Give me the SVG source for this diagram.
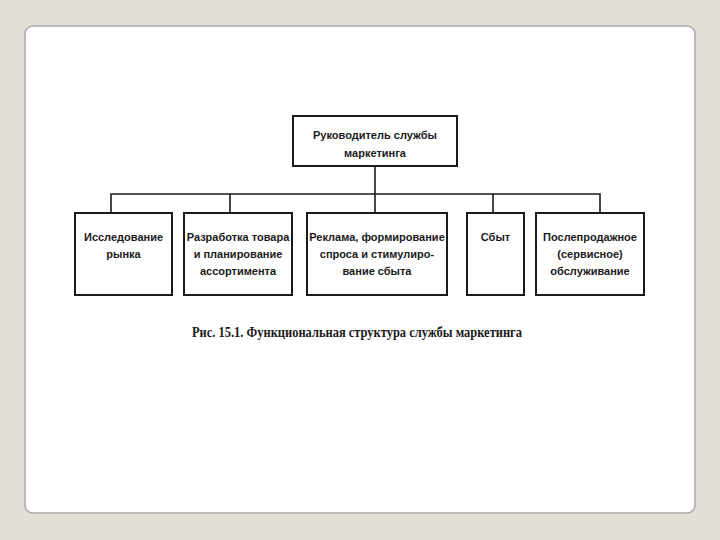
<svg xmlns="http://www.w3.org/2000/svg" width="720" height="540" viewBox="0 0 720 540">
<style>
.box{fill:#fff;stroke:#1a1a1a;stroke-width:2}
.t{font-family:"Liberation Sans",Arial,sans-serif;font-size:11px;font-weight:bold;fill:#1a1a1a;text-anchor:middle}
.c{fill:none;stroke:#1a1a1a;stroke-width:1.6}
.cap{font-family:"Liberation Serif","Times New Roman",serif;font-size:14px;font-weight:bold;fill:#1a1a1a;text-anchor:middle}
</style>
<rect x="0" y="0" width="720" height="540" fill="#e3dfd6"/>
<rect x="25" y="26" width="670" height="487" rx="8" fill="#fff" stroke="#a8a8a8" stroke-width="1.5"/>
<g id="connectors">
<line class="c" x1="375" y1="166" x2="375" y2="213"/>
<polyline class="c" points="111,213 111,194 600,194 600,213"/>
<line class="c" x1="230" y1="194" x2="230" y2="213"/>
<line class="c" x1="493" y1="194" x2="493" y2="213"/>
</g>
<g id="head">
<rect class="box" x="293" y="116" width="164" height="50"/>
<text class="t" x="375" y="139">Руководитель службы</text>
<text class="t" x="375" y="157">маркетинга</text>
</g>
<g id="research">
<rect class="box" x="75" y="213" width="97" height="82"/>
<text class="t" x="123.5" y="241">Исследование</text>
<text class="t" x="123.5" y="258">рынка</text>
</g>
<g id="product">
<rect class="box" x="184" y="213" width="108" height="82"/>
<text class="t" x="238" y="241">Разработка товара</text>
<text class="t" x="238" y="258">и планирование</text>
<text class="t" x="238" y="275">ассортимента</text>
</g>
<g id="ads">
<rect class="box" x="307" y="213" width="140" height="82"/>
<text class="t" x="377" y="241">Реклама, формирование</text>
<text class="t" x="377" y="258">спроса  и стимулиро-</text>
<text class="t" x="377" y="275">вание сбыта</text>
</g>
<g id="sales">
<rect class="box" x="467" y="213" width="57" height="82"/>
<text class="t" x="495.5" y="241">Сбыт</text>
</g>
<g id="service">
<rect class="box" x="536" y="213" width="108" height="82"/>
<text class="t" x="590" y="241">Послепродажное</text>
<text class="t" x="590" y="258">(сервисное)</text>
<text class="t" x="590" y="275">обслуживание</text>
</g>
<text class="cap" x="357" y="337" textLength="330" lengthAdjust="spacingAndGlyphs">Рис. 15.1. Функциональная структура службы маркетинга</text>
</svg>
